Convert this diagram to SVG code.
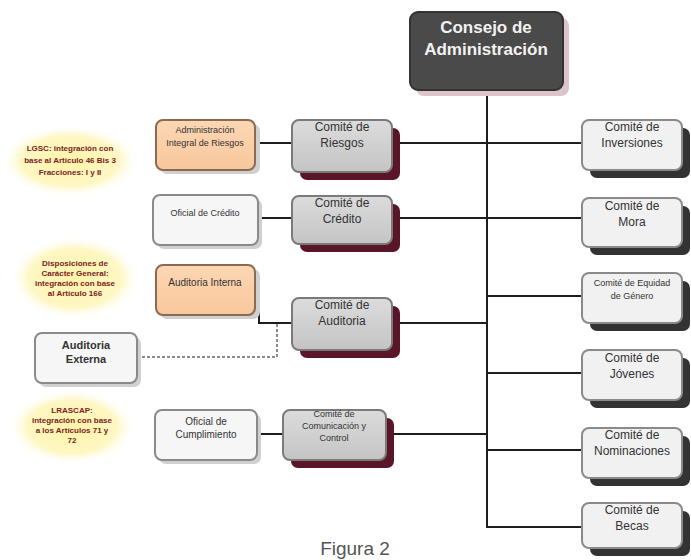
<svg xmlns="http://www.w3.org/2000/svg" width="691" height="560" viewBox="0 0 691 560">
<defs>
<radialGradient id="glow" cx="50%" cy="50%" r="50%">
<stop offset="0" stop-color="#fff4a8"/>
<stop offset="0.7" stop-color="#fff7c4"/>
<stop offset="1" stop-color="#ffffff" stop-opacity="0"/>
</radialGradient>
<linearGradient id="gcom" x1="0" y1="0" x2="0" y2="1">
<stop offset="0" stop-color="#dcdcdc"/>
<stop offset="1" stop-color="#c4c4c4"/>
</linearGradient>
<linearGradient id="gorange" x1="0" y1="0" x2="0" y2="1">
<stop offset="0" stop-color="#fcd7b4"/>
<stop offset="1" stop-color="#f8c79c"/>
</linearGradient>
</defs>
<style>
.t{font-family:"Liberation Sans",Arial,sans-serif;fill:#333;text-anchor:middle}
.c{font-size:12px}
.s{font-size:9px}
.glow{fill:url(#glow)}
.gt{font-family:"Liberation Sans",Arial,sans-serif;font-size:8px;font-weight:bold;fill:#7a2222;text-anchor:middle}
.com{fill:url(#gcom);stroke:#7a7a7a;stroke-width:2}
.mshadow{fill:#5a1628}
.rbox{fill:#f1f1f1;stroke:#8a8a8a;stroke-width:2}
.rshadow{fill:#333}
.lbox{fill:#f6f6f6;stroke:#8a8a8a;stroke-width:2}
.obox{fill:url(#gorange);stroke:#8a6a50;stroke-width:2}
.lshadow{fill:#d0d0d0}
.ln{fill:none;stroke:#1e1e1e;stroke-width:2}
.dash{fill:none;stroke:#666;stroke-width:1.5;stroke-dasharray:3 2}
</style>
<rect width="691" height="560" fill="#ffffff"/>

<g id="connectors">
<path class="ln" d="M487,90 V527 H582"/>
<path class="ln" d="M400,143 H582"/>
<path class="ln" d="M400,218 H582"/>
<path class="ln" d="M487,296 H582"/>
<path class="ln" d="M400,323 H487"/>
<path class="ln" d="M487,373 H582"/>
<path class="ln" d="M393,434 H487"/>
<path class="ln" d="M487,450 H582"/>
<path class="ln" d="M255,143 H292"/>
<path class="ln" d="M258,218 H292"/>
<path class="ln" d="M255,290 H259 V323 H292"/>
<path class="ln" d="M257,434 H283"/>
<path class="dash" d="M137,357 H277 V324"/>
</g>

<g id="glow-lgsc">
<ellipse class="glow" cx="70" cy="161" rx="70" ry="36"/>
<text class="gt" x="70" y="151">LGSC: integración con</text>
<text class="gt" x="70" y="163">base al Artículo 46 Bis 3</text>
<text class="gt" x="70" y="175">Fracciones: I y II</text>
</g>
<g id="glow-disp">
<ellipse class="glow" cx="75" cy="278" rx="66" ry="42"/>
<text class="gt" x="75" y="266">Disposiciones de</text>
<text class="gt" x="75" y="276">Carácter General:</text>
<text class="gt" x="75" y="286">integración con base</text>
<text class="gt" x="75" y="296">al Artículo 166</text>
</g>
<g id="glow-lrascap">
<ellipse class="glow" cx="72" cy="427" rx="64" ry="38"/>
<text class="gt" x="72" y="413">LRASCAP:</text>
<text class="gt" x="72" y="423">integración con base</text>
<text class="gt" x="72" y="433">a los  Artículos 71 y</text>
<text class="gt" x="72" y="443">72</text>
</g>

<g id="consejo">
<rect x="416" y="18" width="153" height="78" rx="8" fill="#dcc4ca"/>
<rect x="410" y="12" width="153" height="78" rx="8" fill="#4a4a4a" stroke="#333" stroke-width="2"/>
<text x="486" y="33" font-family="Liberation Sans,Arial,sans-serif" font-size="17" font-weight="bold" fill="#f2f2f2" text-anchor="middle">Consejo de</text>
<text x="486" y="55" font-family="Liberation Sans,Arial,sans-serif" font-size="17" font-weight="bold" fill="#f2f2f2" text-anchor="middle">Administración</text>
</g>

<g id="comite-riesgos">
<rect class="mshadow" x="300" y="128" width="100" height="52" rx="7"/>
<rect class="com" x="292" y="120" width="100" height="52" rx="7"/>
<text class="t c" x="342" y="131">Comité de</text>
<text class="t c" x="342" y="147">Riesgos</text>
</g>
<g id="comite-credito">
<rect class="mshadow" x="300" y="204" width="100" height="48" rx="7"/>
<rect class="com" x="292" y="196" width="100" height="48" rx="7"/>
<text class="t c" x="342" y="207">Comité de</text>
<text class="t c" x="342" y="223">Crédito</text>
</g>
<g id="comite-auditoria">
<rect class="mshadow" x="300" y="306" width="100" height="52" rx="7"/>
<rect class="com" x="292" y="298" width="100" height="52" rx="7"/>
<text class="t c" x="342" y="309">Comité de</text>
<text class="t c" x="342" y="325">Auditoria</text>
</g>
<g id="comite-comunicacion">
<rect class="mshadow" x="291" y="418" width="103" height="50" rx="7"/>
<rect class="com" x="283" y="410" width="103" height="50" rx="7"/>
<text class="t s" x="334" y="417">Comité de</text>
<text class="t s" x="334" y="429">Comunicación y</text>
<text class="t s" x="334" y="441">Control</text>
</g>

<g id="comite-inversiones">
<rect class="rshadow" x="590" y="128" width="100" height="50" rx="7"/>
<rect class="rbox" x="582" y="120" width="100" height="50" rx="7"/>
<text class="t c" x="632" y="131">Comité de</text>
<text class="t c" x="632" y="147">Inversiones</text>
</g>
<g id="comite-mora">
<rect class="rshadow" x="590" y="206" width="100" height="49" rx="7"/>
<rect class="rbox" x="582" y="198" width="100" height="49" rx="7"/>
<text class="t c" x="632" y="210">Comité de</text>
<text class="t c" x="632" y="226">Mora</text>
</g>
<g id="comite-equidad">
<rect class="rshadow" x="590" y="281" width="100" height="50" rx="7"/>
<rect class="rbox" x="582" y="273" width="100" height="50" rx="7"/>
<text class="t s" x="632" y="286">Comité de Equidad</text>
<text class="t s" x="632" y="299">de Género</text>
</g>
<g id="comite-jovenes">
<rect class="rshadow" x="590" y="358" width="100" height="50" rx="7"/>
<rect class="rbox" x="582" y="350" width="100" height="50" rx="7"/>
<text class="t c" x="632" y="362">Comité de</text>
<text class="t c" x="632" y="378">Jóvenes</text>
</g>
<g id="comite-nominaciones">
<rect class="rshadow" x="590" y="436" width="100" height="50" rx="7"/>
<rect class="rbox" x="582" y="428" width="100" height="50" rx="7"/>
<text class="t c" x="632" y="439">Comité de</text>
<text class="t c" x="632" y="455">Nominaciones</text>
</g>
<g id="comite-becas">
<rect class="rshadow" x="590" y="511" width="100" height="45" rx="7"/>
<rect class="rbox" x="582" y="503" width="100" height="45" rx="7"/>
<text class="t c" x="632" y="514">Comité de</text>
<text class="t c" x="632" y="530">Becas</text>
</g>

<g id="admin-riesgos">
<rect class="lshadow" x="160" y="124" width="100" height="50" rx="7"/>
<rect class="obox" x="156" y="120" width="99" height="50" rx="7"/>
<text class="t s" x="205" y="133">Administración</text>
<text class="t s" x="205" y="146">Integral de Riesgos</text>
</g>
<g id="oficial-credito">
<rect class="lshadow" x="157" y="199" width="105" height="50" rx="7"/>
<rect class="lbox" x="153" y="195" width="105" height="50" rx="7"/>
<text class="t s" x="205" y="216">Oficial de Crédito</text>
</g>
<g id="auditoria-interna">
<rect class="lshadow" x="160" y="269" width="100" height="50" rx="7"/>
<rect class="obox" x="156" y="265" width="99" height="50" rx="7"/>
<text class="t" x="205" y="286" font-size="10">Auditoria Interna</text>
</g>
<g id="auditoria-externa">
<rect class="lshadow" x="39" y="337" width="102" height="50" rx="7"/>
<rect class="lbox" x="35" y="333" width="102" height="50" rx="7"/>
<text class="t" x="86" y="349" font-size="11" font-weight="bold" fill="#222">Auditoria</text>
<text class="t" x="86" y="363" font-size="11" font-weight="bold" fill="#222">Externa</text>
</g>
<g id="oficial-cumplimiento">
<rect class="lshadow" x="159" y="414" width="102" height="50" rx="7"/>
<rect class="lbox" x="155" y="410" width="102" height="50" rx="7"/>
<text class="t" x="206" y="425" font-size="10">Oficial de</text>
<text class="t" x="206" y="438" font-size="10">Cumplimiento</text>
</g>

<text x="355" y="555" font-family="Liberation Sans,Arial,sans-serif" font-size="19" fill="#555" text-anchor="middle">Figura 2</text>
</svg>
